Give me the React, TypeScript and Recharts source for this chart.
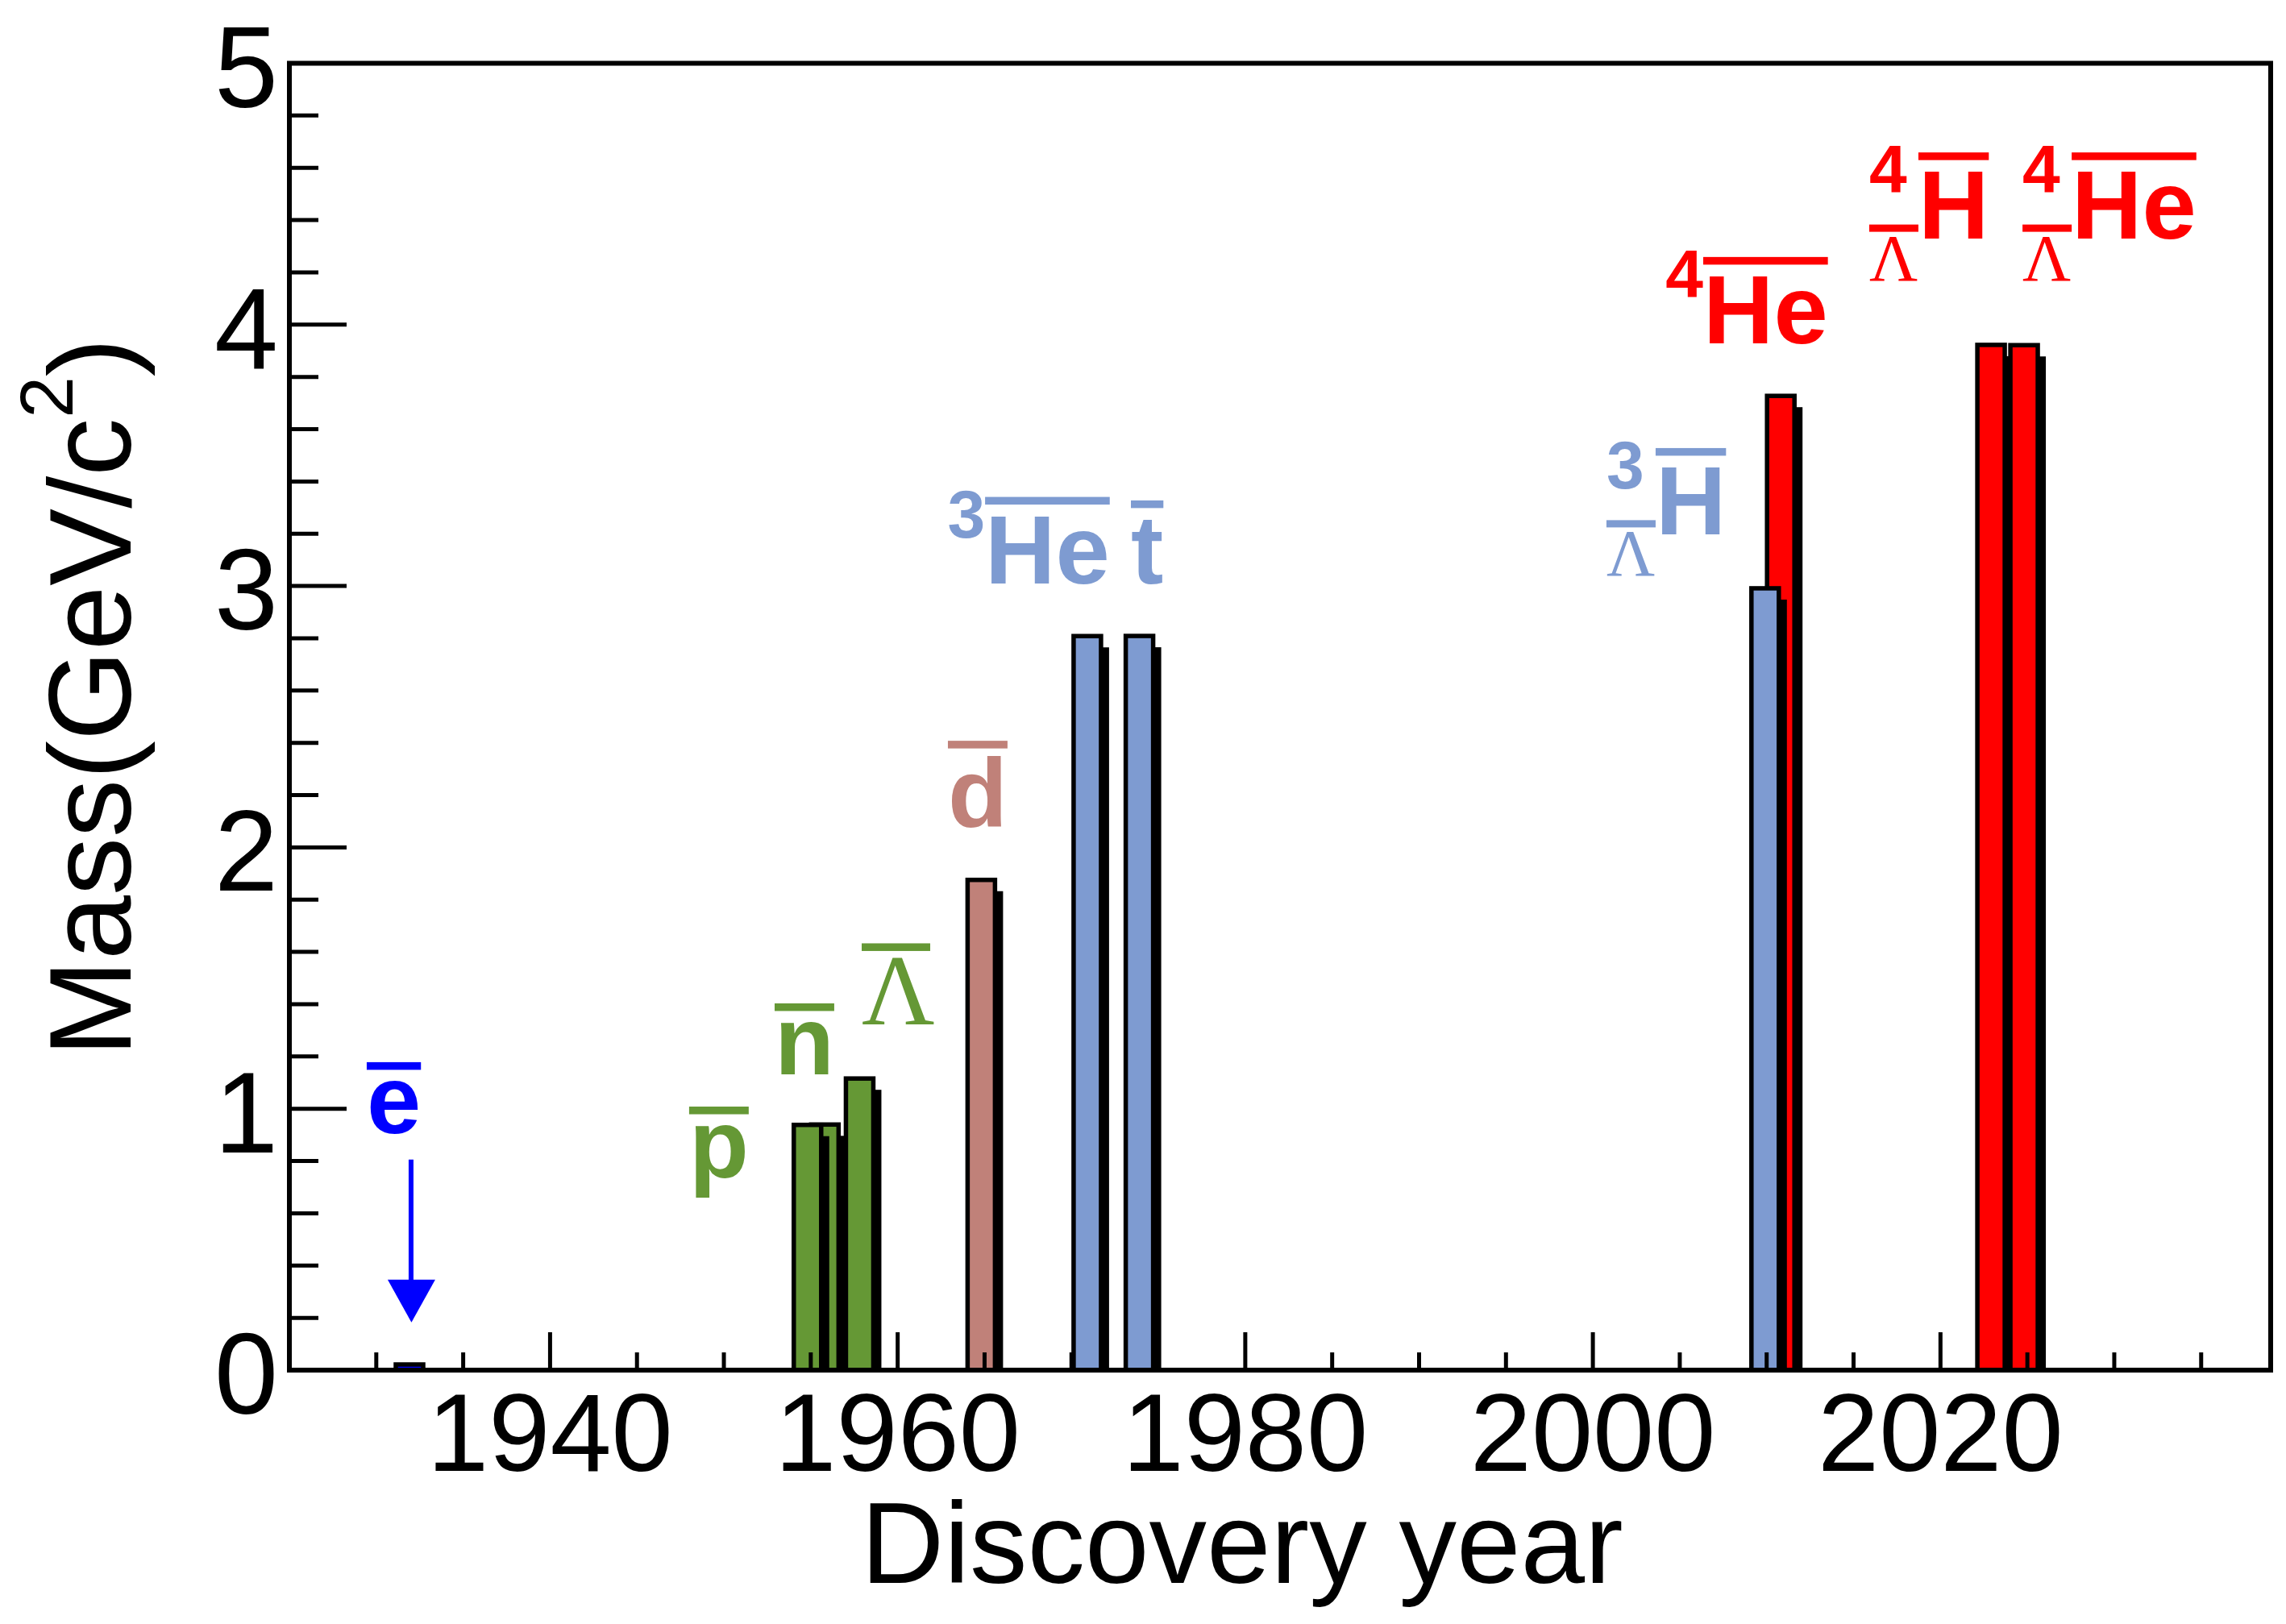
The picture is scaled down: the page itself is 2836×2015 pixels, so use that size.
import { ComposedChart, Bar, XAxis, YAxis, ReferenceDot, Label } from 'recharts'

// bar data, in drawing order (later bars cover earlier ones)
const particles = ['e', 'n', 'p', 'Lambda', 'd', 'He3', 't', 'He4', 'H3L', 'H4L', 'He4L']
const discoveryYear = [1931.9, 1955.8, 1954.8, 1957.8, 1964.8, 1970.9, 1973.9, 2010.8, 2009.9, 2022.9, 2024.8]
const massGeV = [0.000511, 0.9396, 0.9383, 1.1157, 1.8756, 2.8084, 2.8089, 3.7274, 2.9912, 3.9225, 3.9215]

const yearTicks = [1930, 1935, 1940, 1945, 1950, 1955, 1960, 1965, 1970, 1975, 1980, 1985, 1990, 1995, 2000, 2005, 2010, 2015, 2020, 2025, 2030, 2035]
const majorYears = [1940, 1960, 1980, 2000, 2020]
const massTicks = [0, 0.2, 0.4, 0.6, 0.8, 1, 1.2, 1.4, 1.6, 1.8, 2, 2.2, 2.4, 2.6, 2.8, 3, 3.2, 3.4, 3.6, 3.8, 4, 4.2, 4.4, 4.6, 4.8, 5]
const massLabels = [0, 1, 2, 3, 4, 5]

// annotations: main text, anchor (year, mass) of its baseline start, superscript, Lambda subscript
const labelText = ['e', 'p', 'n', 'Λ', 'd', 'He', 't', 'H', 'He', 'H', 'He']
const labelYear = [1929.45, 1948.0, 1952.92, 1957.93, 1962.89, 1965.03, 1973.42, 2003.61, 2006.35, 2018.73, 2027.55]
const labelMass = [0.907, 0.737, 1.132, 1.323, 2.078, 3.011, 3.01, 3.198, 3.929, 4.329, 4.329]
const labelSup = ['', '', '', '', '', '3', '', '3', '4', '4', '4']
const labelSub = [false, false, false, false, false, false, false, true, false, true, true]

const GREEN = '#659835'
const BROWN = '#C08179'
const BLUE = '#7E9BD1'
const RED = '#FF0000'
const barColor = ['#0000FF', GREEN, GREEN, GREEN, BROWN, BLUE, BLUE, RED, BLUE, RED, RED]
const labelColor = ['#0000FF', GREEN, GREEN, GREEN, BROWN, BLUE, BLUE, BLUE, RED, RED, RED]

const W = 2836
const H = 2015
const PLOT = { left: 359, top: 78.5, right: 2817, bottom: 1700 }
const SANS = "'Liberation Sans', Arial, Helvetica, sans-serif"
const SERIF = "'Liberation Serif', 'Times New Roman', serif"

const rows = particles.map((name, i) => ({ name, year: discoveryYear[i], mass: massGeV[i], color: barColor[i] }))

const ADV: Record<string, number> = { H: 0.722, e: 0.556, p: 0.611, n: 0.611, d: 0.611, t: 0.333 }

function textAdvance(s: string, fs: number) {
  return s.split('').reduce((sum, c) => sum + (ADV[c] ?? 0.6) * fs, 0)
}

function overRise(s: string) {
  if (s.includes('H') || s.includes('d')) return 0.884
  if (s.includes('t')) return 0.851
  return 0.727
}

function ParticleLabel({ cx, cy, i }: { cx: number; cy: number; i: number }) {
  const color = labelColor[i]
  const body = labelText[i]
  const serif = body === 'Λ'
  const fs = serif ? 125 : 121
  const adv = serif ? 85 : textAdvance(body, fs)
  const rise = serif ? 100.5 : overRise(body) * fs
  const sup = labelSup[i]
  const sub = labelSub[i]
  const subW = 61
  return (
    <g fill={color}>
      <text x={cx} y={cy} fontFamily={serif ? SERIF : SANS} fontWeight={serif ? 400 : 700} fontSize={fs}>
        {body}
      </text>
      <rect x={cx} y={cy - rise} width={adv} height={9.5} />
      {sup && (
        <text
          x={sub ? cx - subW : cx}
          y={cy - 57}
          textAnchor={sub ? 'start' : 'end'}
          fontFamily={SANS}
          fontWeight={700}
          fontSize={84}
        >
          {sup}
        </text>
      )}
      {sub && (
        <g>
          <text x={cx - subW} y={cy + 51.5} fontFamily={SERIF} fontSize={83}>
            Λ
          </text>
          <rect x={cx - subW} y={cy + 51.5 - 69} width={subW} height={9} />
        </g>
      )}
      {i === 0 && (
        <g>
          <line x1={cx + 55} x2={cx + 55} y1={cy + 33} y2={cy + 184} stroke={color} strokeWidth={6} />
          <polygon points={`${cx + 26},${cy + 182} ${cx + 85},${cy + 182} ${cx + 55.5},${cy + 235}`} />
        </g>
      )}
    </g>
  )
}

function ShadowBar(props: any) {
  const { x, y, width, height, payload } = props
  const cx = x + width / 2
  const w = 34
  const top = y
  const bottom = y + height
  const sTop = Math.min(top + 14, bottom)
  return (
    <g>
      <rect x={cx - w / 2 + 14} y={sTop} width={w - 4} height={bottom + 11 - sTop} fill="#000" />
      <rect x={cx - w / 2} y={top} width={w} height={height} fill={payload.color} stroke="#000" strokeWidth={5.5} />
    </g>
  )
}

function YearTick(props: any) {
  const { x, payload } = props
  const v = payload.value
  const major = majorYears.includes(v)
  return (
    <g>
      <line x1={x} x2={x} y1={PLOT.bottom} y2={PLOT.bottom - (major ? 47 : 22)} stroke="#000" strokeWidth={5} />
      {major && (
        <text x={x} y={PLOT.bottom + 125} textAnchor="middle" fontFamily={SANS} fontSize={137} fill="#000">
          {v}
        </text>
      )}
    </g>
  )
}

function MassTick(props: any) {
  const { y, payload } = props
  const v = payload.value
  const major = massLabels.some((m) => Math.abs(m - v) < 1e-6)
  return (
    <g>
      <line x1={PLOT.left} x2={PLOT.left + (major ? 71 : 36)} y1={y} y2={y} stroke="#000" strokeWidth={5} />
      {major && (
        <text x={PLOT.left - 14} y={y + 54} textAnchor="end" fontFamily={SANS} fontSize={142} fill="#000">
          {Math.round(v)}
        </text>
      )}
    </g>
  )
}

// x title plus the pad frame around the plot area
const xTitle = () => (
  <g>
    <rect
      x={PLOT.left}
      y={PLOT.top}
      width={PLOT.right - PLOT.left}
      height={PLOT.bottom - PLOT.top}
      fill="none"
      stroke="#000"
      strokeWidth={6}
    />
    <text x={PLOT.left + 709} y={PLOT.bottom + 264} fontFamily={SANS} fontSize={143} fill="#000">
      Discovery year
    </text>
  </g>
)

const yTitle = () => (
  <text transform={`translate(162,1311) rotate(-90)`} fontFamily={SANS} fontSize={144} fill="#000">
    Mass(GeV/c
    <tspan dy={-72} fontSize={93}>2</tspan>
    <tspan dy={72} fontSize={144}>)</tspan>
  </text>
)

export default function App() {
  return (
    <div style={{ position: 'absolute', left: 0, top: 0, width: W, height: H, background: '#fff' }}>
      <ComposedChart
        width={W}
        height={H}
        data={rows}
        margin={{ top: PLOT.top, left: PLOT.left - 100, right: W - PLOT.right, bottom: H - PLOT.bottom - 100 }}
      >
        <XAxis
          dataKey="year"
          type="number"
          domain={[1925, 2039]}
          allowDataOverflow
          ticks={yearTicks}
          interval={0}
          height={100}
          axisLine={false}
          tickLine={false}
          tickSize={0}
          tickMargin={0}
          tick={<YearTick />}
        >
          <Label content={xTitle} />
        </XAxis>
        <YAxis
          type="number"
          domain={[0, 5]}
          allowDataOverflow
          ticks={massTicks}
          interval={0}
          width={100}
          axisLine={false}
          tickLine={false}
          tickSize={0}
          tickMargin={0}
          tick={<MassTick />}
        >
          <Label content={yTitle} />
        </YAxis>
        <Bar dataKey="mass" shape={<ShadowBar />} minPointSize={7} isAnimationActive={false} />
        {labelText.map((_, i) => (
          <ReferenceDot
            key={i}
            x={labelYear[i]}
            y={labelMass[i]}
            r={0}
            ifOverflow="visible"
            shape={(p: any) => <ParticleLabel cx={p.cx} cy={p.cy} i={i} />}
          />
        ))}
      </ComposedChart>
    </div>
  )
}
